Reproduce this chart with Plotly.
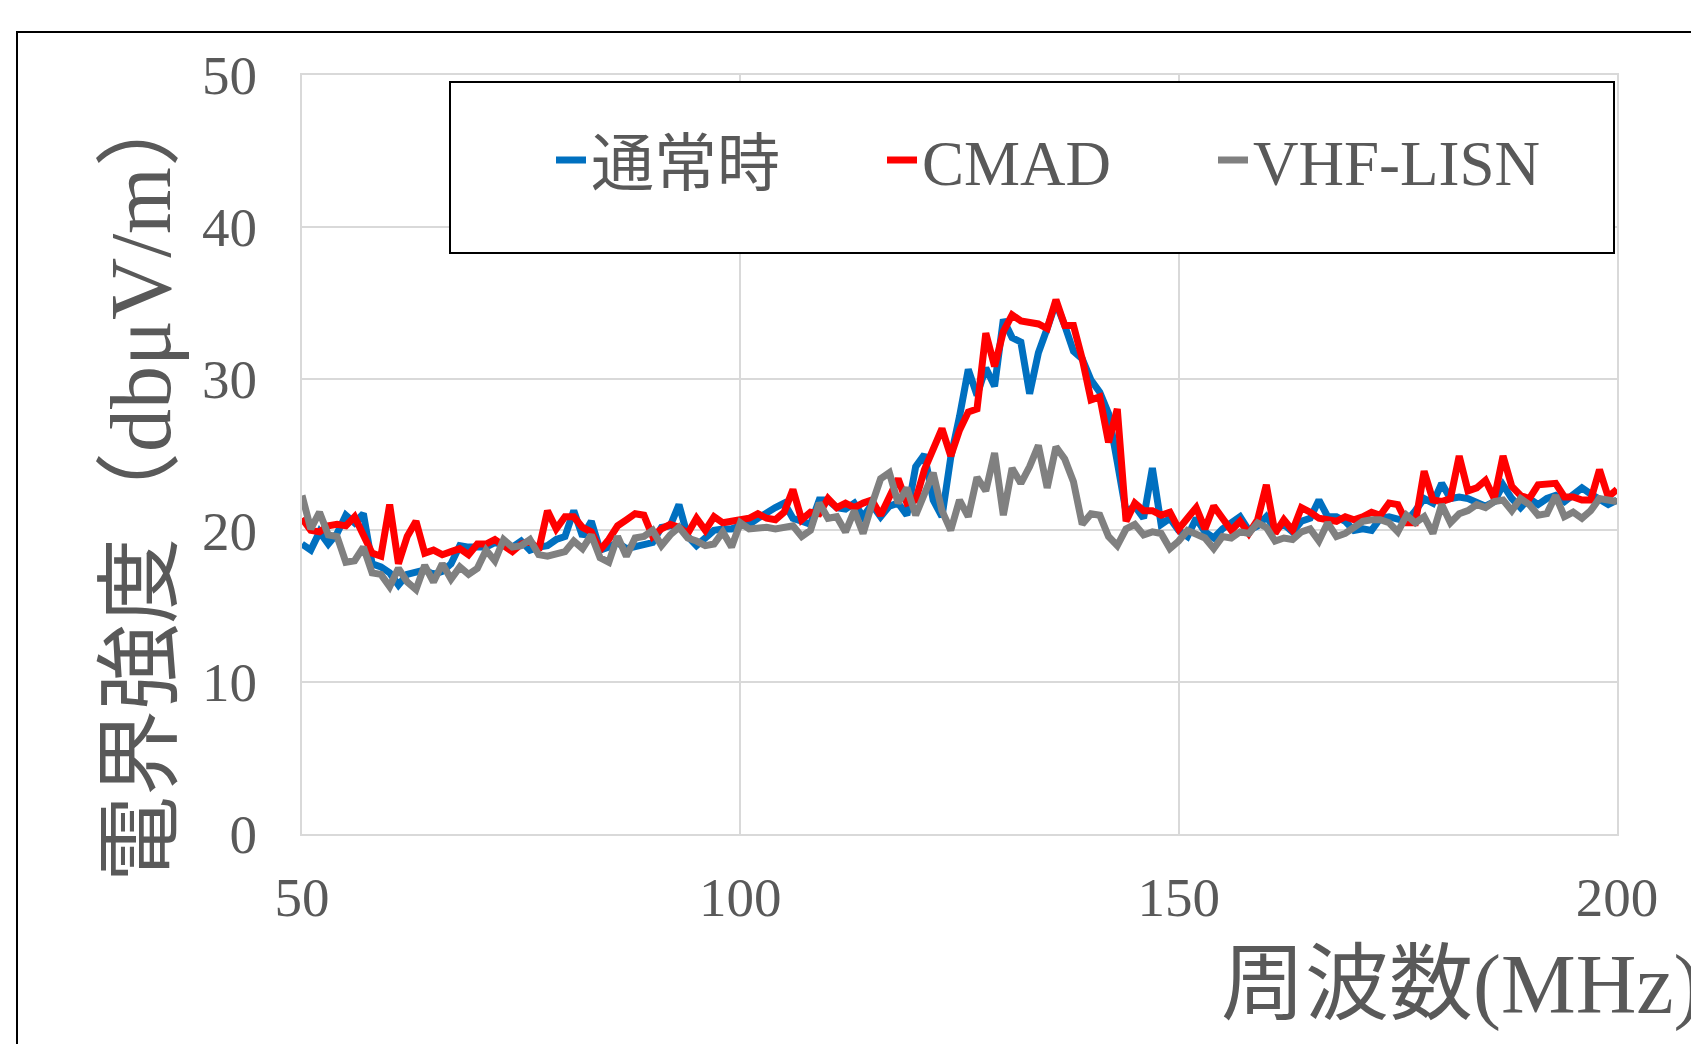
import plotly.graph_objects as go

freq = list(range(50, 201))

normal = [19.1, 18.7, 19.9, 19.1, 19.8, 21.0, 20.5, 21.1, 17.8, 17.6,
          17.2, 16.4, 17.1, 17.2, 17.4, 17.1, 17.3, 17.8, 19.0, 18.9,
          18.9, 18.9, 19.2, 19.1, 18.9, 19.3, 18.7, 18.9, 19.0, 19.4,
          19.6, 21.3, 19.6, 20.6, 18.7, 18.9, 19.2, 18.8, 18.9, 19.0,
          19.2, 20.2, 20.3, 21.7, 19.6, 19.0, 19.5, 20.0, 20.1, 20.1,
          20.3, 20.4, 20.8, 21.2, 21.5, 21.8, 20.8, 20.6, 20.4, 22.0,
          22.0, 21.5, 21.4, 21.8, 20.9, 21.7, 20.9, 21.6, 21.8, 21.0,
          24.2, 25.0, 22.0, 20.9, 24.8, 27.5, 30.6, 28.9, 30.7, 29.5,
          33.9, 32.7, 32.4, 29.0, 31.7, 33.3, 35.0, 33.5, 31.8, 31.3,
          29.9, 29.1, 27.7, 24.5, 21.2, 21.6, 20.8, 24.1, 20.4, 20.8,
          20.0, 19.6, 20.8, 19.9, 19.5, 20.1, 20.5, 20.9, 20.0, 20.3,
          20.9, 20.1, 20.4, 19.9, 20.6, 20.8, 22.0, 20.9, 20.9, 20.6,
          20.0, 20.1, 20.0, 20.8, 20.9, 20.8, 20.6, 21.3, 22.1, 21.8,
          23.1, 22.1, 22.2, 22.1, 21.8, 21.6, 21.9, 23.0, 22.1, 21.5,
          22.1, 21.7, 22.1, 22.3, 21.9, 22.3, 22.8, 22.4, 22.1, 21.7,
          22.0]

cmad = [20.8, 20.0, 19.9, 20.3, 20.4, 20.3, 20.9, 19.6, 18.5, 18.3,
        21.7, 17.8, 19.6, 20.6, 18.5, 18.7, 18.4, 18.6, 18.8, 18.4,
        19.1, 19.1, 19.4, 19.0, 18.6, 19.1, 19.3, 18.7, 21.3, 20.1,
        20.9, 20.9, 20.2, 19.9, 18.7, 19.4, 20.3, 20.7, 21.1, 21.0,
        19.6, 20.1, 20.4, 20.2, 19.8, 20.8, 20.0, 20.9, 20.5, 20.6,
        20.7, 20.8, 21.1, 20.8, 20.7, 21.2, 22.7, 20.7, 21.2, 21.1,
        22.1, 21.5, 21.8, 21.5, 21.8, 22.0, 21.0, 22.3, 23.4, 21.8,
        22.0, 24.0, 25.3, 26.7, 24.9, 26.6, 27.8, 28.0, 33.0, 30.8,
        33.1, 34.2, 33.8, 33.7, 33.6, 33.3, 35.2, 33.5, 33.5, 31.3,
        28.6, 28.8, 25.8, 28.0, 20.6, 21.8, 21.3, 21.3, 21.0, 21.2,
        20.1, 20.8, 21.5, 20.1, 21.6, 20.8, 20.0, 20.6, 19.8, 20.7,
        23.0, 19.8, 20.7, 20.0, 21.5, 21.2, 20.8, 20.7, 20.6, 20.9,
        20.7, 20.9, 21.2, 21.0, 21.8, 21.7, 20.5, 20.5, 23.9, 22.0,
        21.9, 22.1, 24.9, 22.6, 22.8, 23.3, 22.1, 24.9, 22.9, 22.3,
        22.1, 23.0, 23.0, 23.1, 22.2, 22.2, 22.0, 22.0, 24.0, 22.2,
        22.7]

vhf_lisn = [22.3, 20.1, 21.2, 19.7, 19.6, 17.9, 18.0, 18.9, 17.2, 17.1,
            16.3, 17.5, 16.6, 16.1, 17.7, 16.6, 17.8, 16.8, 17.6, 17.1,
            17.5, 18.7, 18.0, 19.4, 18.9, 19.0, 19.4, 18.4, 18.3, 18.5,
            18.6, 19.3, 18.8, 19.7, 18.2, 17.9, 19.6, 18.3, 19.5, 19.6,
            20.0, 19.0, 19.7, 20.2, 19.5, 19.3, 19.0, 19.1, 19.9, 18.9,
            20.5, 20.1, 20.2, 20.2, 20.1, 20.2, 20.3, 19.6, 20.0, 21.8,
            20.8, 20.9, 19.9, 21.3, 19.8, 21.7, 23.4, 23.8, 21.8, 22.8,
            21.0, 22.4, 23.8, 21.3, 20.0, 22.0, 20.9, 23.5, 22.6, 25.1,
            21.0, 24.1, 23.1, 24.2, 25.6, 22.8, 25.5, 24.7, 23.2, 20.4,
            21.1, 21.0, 19.6, 19.0, 20.1, 20.4, 19.7, 19.9, 19.8, 18.8,
            19.3, 20.0, 19.7, 19.5, 18.8, 19.6, 19.5, 19.9, 19.8, 20.5,
            20.2, 19.3, 19.5, 19.4, 19.9, 20.1, 19.3, 20.5, 19.6, 19.8,
            20.2, 20.6, 20.7, 20.7, 20.5, 19.9, 21.0, 20.5, 20.9, 19.8,
            21.7, 20.5, 21.1, 21.3, 21.7, 21.5, 21.9, 22.0, 21.3, 22.1,
            21.7, 21.0, 21.1, 22.3, 20.9, 21.2, 20.8, 21.3, 22.1, 22.0,
            21.9]

series_names = ["通常時", "CMAD", "VHF-LISN"]
series_colors = ["#0070C0", "#FF0000", "#808080"]
x_ticks = [50, 100, 150, 200]
y_ticks = [0, 10, 20, 30, 40, 50]

# page offset of the figure (default body margin)
OFF = 8
W, H = 1699 - OFF, 1044 - OFF
# plot area in page pixels
PL, PR, PT, PB = 302, 1617, 75, 834
L, R, T, B = PL - OFF, PR - OFF, PT - OFF, PB - OFF


def px(x):
    return (x - OFF - L) / (R - L)


def py(y):
    return (B - (y - OFF)) / (B - T)


SERIF = "Liberation Serif, Times New Roman, Noto Sans CJK JP, serif"
TXT = "#595959"

fig = go.Figure()
for name, vals, col in zip(series_names, [normal, cmad, vhf_lisn], series_colors):
    fig.add_trace(go.Scatter(x=freq, y=vals, mode="lines", name=name,
                             line=dict(color=col, width=7)))

axis_common = dict(showgrid=True, gridcolor="#d9d9d9", gridwidth=2,
                   zeroline=False, showline=True, linecolor="#d9d9d9",
                   linewidth=2, mirror=True, ticks="",
                   tickfont=dict(family=SERIF, size=55, color=TXT))

fig.update_layout(
    width=W, height=H,
    margin=dict(l=L, r=W - R, t=T, b=H - B, autoexpand=False),
    paper_bgcolor="white", plot_bgcolor="white",
    xaxis=dict(range=[50, 200], tickvals=x_ticks, ticklabelstandoff=14,
               **axis_common),
    yaxis=dict(range=[0, 50], tickvals=y_ticks, ticklabelstandoff=32,
               **axis_common),
    showlegend=True,
    legend=dict(orientation="h", x=px(551), xanchor="left",
                y=py(160), yanchor="middle",
                bgcolor="rgba(0,0,0,0)", borderwidth=0,
                font=dict(family=SERIF, size=63, color=TXT),
                entrywidth=286, entrywidthmode="pixels", itemwidth=30),
    shapes=[
        dict(type="rect", xref="paper", yref="paper",
             x0=px(17), x1=px(1760), y0=py(1200), y1=py(32),
             line=dict(color="black", width=2), fillcolor="rgba(0,0,0,0)",
             layer="above"),
        dict(type="rect", xref="paper", yref="paper",
             x0=px(450), x1=px(1614), y0=py(253), y1=py(82),
             line=dict(color="black", width=2), fillcolor="white",
             layer="above"),
    ],
    annotations=[
        dict(text="電界強度（dbμV/m）", xref="paper", yref="paper",
             x=px(141), y=py(482), xanchor="center", yanchor="middle",
             textangle=-90, showarrow=False,
             font=dict(family=SERIF, size=86, color=TXT)),
        dict(text="周波数(MHz)", xref="paper", yref="paper",
             x=px(1219), y=py(985), xanchor="left", yanchor="middle",
             showarrow=False,
             font=dict(family=SERIF, size=84, color=TXT)),
    ],
)

fig.write_html("out.html")
